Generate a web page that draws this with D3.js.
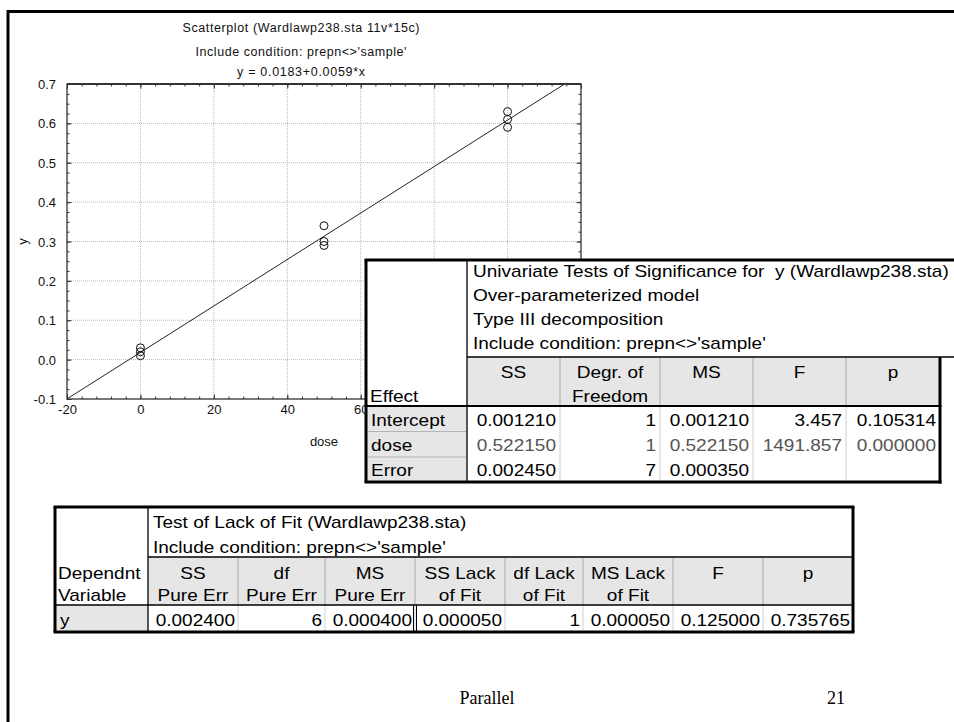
<!DOCTYPE html>
<html><head><meta charset="utf-8">
<script src="https://cdn.jsdelivr.net/npm/d3@7"></script>
<style>
html,body{margin:0;padding:0;background:#fff;}
svg{display:block;}
text{white-space:pre;}
</style></head>
<body>
<script>
// ---------- data ----------
const titleLines = ["Scatterplot (Wardlawp238.sta 11v*15c)", "Include condition: prepn<>'sample'", "y = 0.0183+0.0059*x"];
const doseValues = [0, 0, 0, 50, 50, 50, 100, 100, 100];
const yValues = [0.01, 0.02, 0.03, 0.29, 0.30, 0.34, 0.59, 0.61, 0.63];
const fitIntercept = 0.0183;
const fitSlope = 0.0059;
const xTicks = [-20, 0, 20, 40, 60, 80, 100, 120];
const xTickLabelsShown = [-20, 0, 20, 40, 60]; // the rest are hidden under the ANOVA table
const yTicks = [-0.1, 0.0, 0.1, 0.2, 0.3, 0.4, 0.5, 0.6, 0.7];

const anovaTitle = ["Univariate Tests of Significance for  y (Wardlawp238.sta)", "Over-parameterized model", "Type III decomposition", "Include condition: prepn<>'sample'"];
const anovaHeaders = [["SS"], ["Degr. of", "Freedom"], ["MS"], ["F"], ["p"]];
const anovaEffects = ["Intercept", "dose", "Error"];
const anovaSS = ["0.001210", "0.522150", "0.002450"];
const anovaDF = ["1", "1", "7"];
const anovaMS = ["0.001210", "0.522150", "0.000350"];
const anovaF = ["3.457", "1491.857", ""];
const anovaP = ["0.105314", "0.000000", ""];

const lofTitle = ["Test of Lack of Fit (Wardlawp238.sta)", "Include condition: prepn<>'sample'"];
const lofRowHeader = ["Dependnt", "Variable"];
const lofHeaders = [["SS", "Pure Err"], ["df", "Pure Err"], ["MS", "Pure Err"], ["SS Lack", "of Fit"], ["df Lack", "of Fit"], ["MS Lack", "of Fit"], ["F"], ["p"]];
const lofVariable = "y";
const lofValues = ["0.002400", "6", "0.000400", "0.000050", "1", "0.000050", "0.125000", "0.735765"];

const footerLeft = "Parallel";
const footerRight = "21";

// ---------- setup ----------
const W = 954, H = 722;
const svg = d3.select("body").append("svg").attr("width", W).attr("height", H);
const SANS = "'Liberation Sans', Arial, sans-serif";

// page frame
svg.append("path").attr("d", "M8,722 L8,11.5 L954,11.5").attr("fill", "none").attr("stroke", "#000").attr("stroke-width", 3);

// ---------- scatter chart ----------
const pl = 67, pr = 581, pt = 84, pb = 399;
const x = d3.scaleLinear().domain([-20, 120]).range([pl, pr]);
const y = d3.scaleLinear().domain([-0.1, 0.7]).range([pb, pt]);
const chart = svg.append("g");

// titles
const titleY = [32, 56, 76];
const titleW = [237, 211, 128];
titleLines.forEach((t, i) => {
  chart.append("text").attr("x", 301).attr("y", titleY[i]).attr("text-anchor", "middle")
    .attr("font-family", SANS).attr("font-size", 12.5).attr("fill", "#111")
    .attr("textLength", titleW[i]).attr("lengthAdjust", "spacing").text(t);
});

// grid
const grid = chart.append("g").attr("stroke", "#b8b8b8").attr("stroke-width", 1).attr("stroke-dasharray", "1,1");
xTicks.slice(1, -1).forEach(v => grid.append("line").attr("x1", x(v)).attr("x2", x(v)).attr("y1", pt).attr("y2", pb));
yTicks.slice(1, -1).forEach(v => grid.append("line").attr("x1", pl).attr("x2", pr).attr("y1", y(v)).attr("y2", y(v)));

// axes with inward ticks (major + minor) on all sides
const xMinor = d3.range(-20, 120.001, 4);
const yMinor = d3.range(-0.1, 0.7001, 0.025);
function addAxis(axisFn, scale, vals, size, tr) {
  const a = axisFn(scale).tickValues(vals).tickSize(size).tickFormat("");
  const g = chart.append("g").attr("transform", tr).call(a);
  g.select(".domain").remove();
  g.selectAll("line").attr("stroke", "#333").attr("stroke-width", 1);
}
addAxis(d3.axisTop, x, xMinor, 2.5, `translate(0,${pb})`);
addAxis(d3.axisTop, x, xTicks, 4.5, `translate(0,${pb})`);
addAxis(d3.axisBottom, x, xMinor, 2.5, `translate(0,${pt})`);
addAxis(d3.axisBottom, x, xTicks, 4.5, `translate(0,${pt})`);
addAxis(d3.axisRight, y, yMinor, 2.5, `translate(${pl},0)`);
addAxis(d3.axisRight, y, yTicks, 4.5, `translate(${pl},0)`);
addAxis(d3.axisLeft, y, yMinor, 2.5, `translate(${pr},0)`);
addAxis(d3.axisLeft, y, yTicks, 4.5, `translate(${pr},0)`);

// tick labels
const xl = d3.axisBottom(x).tickValues(xTickLabelsShown).tickSize(0).tickPadding(0).tickFormat(d => String(d));
const xg = chart.append("g").attr("transform", `translate(0,${pb + 15})`).call(xl);
xg.select(".domain").remove();
xg.selectAll("text").attr("font-family", SANS).attr("font-size", 13).attr("fill", "#111").attr("dy", 0).attr("y", 0);
const yl = d3.axisLeft(y).tickValues(yTicks).tickSize(0).tickPadding(0).tickFormat(d => d.toFixed(1));
const yg = chart.append("g").attr("transform", `translate(${pl - 11},0)`).call(yl);
yg.select(".domain").remove();
yg.selectAll("text").attr("font-family", SANS).attr("font-size", 13).attr("fill", "#111").attr("dy", "0.35em");

// axis titles
chart.append("text").attr("x", (pl + pr) / 2).attr("y", 446).attr("text-anchor", "middle")
  .attr("font-family", SANS).attr("font-size", 13).attr("fill", "#111").text("dose");
chart.append("text").attr("transform", `translate(27,${(pt + pb) / 2}) rotate(-90)`).attr("text-anchor", "middle")
  .attr("font-family", SANS).attr("font-size", 13).attr("fill", "#111").text("y");

// fit line (clipped)
chart.append("clipPath").attr("id", "plotclip").append("rect").attr("x", pl).attr("y", pt).attr("width", pr - pl).attr("height", pb - pt);
const lineX = [x.domain()[0], x.domain()[1]];
chart.append("path").attr("clip-path", "url(#plotclip)")
  .attr("d", d3.line().x(d => x(d)).y(d => y(fitIntercept + fitSlope * d))(lineX))
  .attr("fill", "none").attr("stroke", "#222").attr("stroke-width", 1);

// points
chart.append("g").selectAll("circle").data(doseValues.map((d, i) => [d, yValues[i]])).join("circle")
  .attr("cx", d => x(d[0])).attr("cy", d => y(d[1])).attr("r", 4)
  .attr("fill", "none").attr("stroke", "#111").attr("stroke-width", 1);

// plot border
chart.append("rect").attr("x", pl).attr("y", pt).attr("width", pr - pl).attr("height", pb - pt)
  .attr("fill", "none").attr("stroke", "#333").attr("stroke-width", 1.3);
chart.append("line").attr("x1", pl).attr("x2", pr).attr("y1", pt).attr("y2", pt).attr("stroke", "#333").attr("stroke-width", 2);

// ---------- table helpers ----------
const SX = 1.12, FS = 17;
function txt(g, tx, ty, s, anchor, color) {
  g.append("text").attr("transform", `translate(${tx},${ty}) scale(${SX},1)`)
    .attr("text-anchor", anchor || "start").attr("font-family", SANS).attr("font-size", FS)
    .attr("xml:space", "preserve")
    .attr("fill", color || "#000").text(s);
}
function hline(g, x1, x2, yy, c, w) { g.append("line").attr("x1", x1).attr("x2", x2).attr("y1", yy).attr("y2", yy).attr("stroke", c).attr("stroke-width", w); }
function vline(g, xx, y1, y2, c, w) { g.append("line").attr("x1", xx).attr("x2", xx).attr("y1", y1).attr("y2", y2).attr("stroke", c).attr("stroke-width", w); }
function rect(g, x0, y0, w, h, fill) { g.append("rect").attr("x", x0).attr("y", y0).attr("width", w).attr("height", h).attr("fill", fill); }

const HEAD_BG = "#e6e6e6", SEP = "#b4b4b4", LIGHT = "#cfcfcf";

// ---------- ANOVA table ----------
{
  const g = svg.append("g");
  const L = 366, T = 260, R = 940;
  const cols = [467, 560, 660, 753, 846, 940];
  const headTop = 357, headBot = 406;
  const rowTops = [406, 431.5, 457, 482];
  rect(g, L, T, W - L, rowTops[3] - T, "#fff");
  rect(g, cols[0], headTop, R - cols[0], headBot - headTop, HEAD_BG);
  for (let i = 0; i < 3; i++) {
    rect(g, L, rowTops[i], cols[0] - L, rowTops[i + 1] - rowTops[i], HEAD_BG);
    if (i > 0) hline(g, L, cols[0], rowTops[i], SEP, 1);
  }
  for (let c = 1; c < cols.length - 1; c++) {
    vline(g, cols[c], headTop, headBot, SEP, 1.2);
    vline(g, cols[c], headBot, rowTops[3], LIGHT, 1);
  }
  const tB = [277, 301, 325, 349];
  anovaTitle.forEach((t, i) => txt(g, cols[0] + 6, tB[i], t, "start"));
  anovaHeaders.forEach((h, c) => {
    const cx = (cols[c] + cols[c + 1]) / 2;
    h.forEach((s, k) => txt(g, cx, 378 + k * 24, s, "middle"));
  });
  txt(g, L + 4, 402, "Effect", "start");
  const colsData = [anovaSS, anovaDF, anovaMS, anovaF, anovaP];
  anovaEffects.forEach((e, i) => {
    const by = rowTops[i + 1] - 6;
    const col = i === 1 ? "#555" : "#000";
    txt(g, L + 5, by, e, "start", "#000");
    colsData.forEach((arr, c) => { if (arr[i]) txt(g, cols[c + 1] - 4, by, arr[i], "end", col); });
  });
  hline(g, L - 1.5, W, T, "#000", 3);
  hline(g, cols[0], W, headTop, "#000", 1.5);
  hline(g, L, R + 1.5, headBot, "#000", 2);
  hline(g, L - 1.5, R + 1.5, rowTops[3], "#000", 3);
  vline(g, L, T, rowTops[3], "#000", 3);
  vline(g, cols[0], T, rowTops[3], "#000", 1.3);
  vline(g, R, headTop, rowTops[3] + 1.5, "#000", 3);
}

// ---------- Lack of fit table ----------
{
  const g = svg.append("g");
  const L = 55, T = 507, R = 853, B = 632;
  const cols = [148, 238, 325, 415, 505, 583, 673, 763, 853];
  const headTop = 557, headBot = 605;
  rect(g, L, T, R - L, B - T, "#fff");
  rect(g, cols[0], headTop, R - cols[0], headBot - headTop, HEAD_BG);
  rect(g, L, headBot, cols[0] - L, B - headBot, HEAD_BG);
  for (let c = 1; c < cols.length - 1; c++) {
    vline(g, cols[c], headTop, headBot, SEP, 1.2);
    vline(g, cols[c], headBot, B, LIGHT, 1);
  }
  vline(g, cols[3] - 1.5, headBot, B, "#000", 1);
  vline(g, cols[3] + 1.5, headBot, B, "#000", 1);
  lofTitle.forEach((t, i) => txt(g, cols[0] + 5, 528 + i * 25, t, "start"));
  lofRowHeader.forEach((t, i) => txt(g, L + 3, 579 + i * 22, t, "start"));
  lofHeaders.forEach((h, c) => {
    const cx = (cols[c] + cols[c + 1]) / 2;
    h.forEach((s, k) => txt(g, cx, 579 + k * 22, s, "middle"));
  });
  txt(g, L + 5, B - 6, lofVariable, "start");
  lofValues.forEach((v, c) => txt(g, cols[c + 1] - 3, B - 6, v, "end"));
  hline(g, L - 1.5, R + 1.5, T, "#000", 3);
  hline(g, cols[0], R, headTop, "#000", 1.5);
  hline(g, L, R, headBot, "#000", 1.5);
  hline(g, L - 1.5, R + 1.5, B, "#000", 3);
  vline(g, L, T, B, "#000", 3);
  vline(g, R, T, B, "#000", 3);
  vline(g, cols[0], T, B, "#000", 1.3);
}

// ---------- footer ----------
svg.append("text").attr("x", 487).attr("y", 704).attr("text-anchor", "middle")
  .attr("font-family", "'Liberation Serif', 'Times New Roman', serif").attr("font-size", 18).text(footerLeft);
svg.append("text").attr("x", 836).attr("y", 704).attr("text-anchor", "middle")
  .attr("font-family", "'Liberation Serif', 'Times New Roman', serif").attr("font-size", 18).text(footerRight);
</script>
</body></html>
